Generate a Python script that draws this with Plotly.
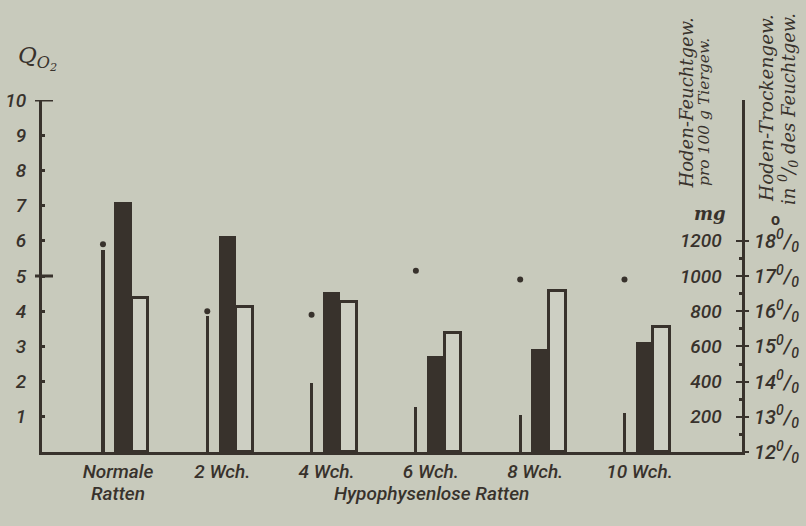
import plotly.graph_objects as go

# --- data -------------------------------------------------------------
groups = ["Normale", "2 Wch.", "4 Wch.", "6 Wch.", "8 Wch.", "10 Wch."]
# Hoden-Feuchtgewicht, mg pro 100 g Tiergewicht (thin bars)
feuchtgew_mg = [1150, 770, 390, 255, 210, 220]
# Q_O2, dark bars
qo2_dark = [7.1, 6.15, 4.55, 2.73, 2.93, 3.12]
# Q_O2, open bars
qo2_open = [4.37, 4.11, 4.25, 3.38, 4.57, 3.55]
# Hoden-Trockengewicht in % des Feuchtgewichts (dots)
trockengew_pct = [17.9, 16.0, 15.9, 17.15, 16.9, 16.9]

qo2_ticks = list(range(1, 11))
mg_ticks = [200, 400, 600, 800, 1000, 1200]
mg_minor = [100, 300, 500, 700, 900, 1100]
pct_ticks = [12, 13, 14, 15, 16, 17, 18]

# --- style ------------------------------------------------------------
INK = "#38322c"
PAPER = "#c8cabc"
OPEN_FILL = "#cdcfc3"
SANS = "Roboto"
SERIF = "DejaVu Serif"

W, H = 806, 526
L, R, T, B = 42, 64, 100, 74
PW, PH = W - L - R, H - T - B

# horizontal layout of one group (in group units)
OFF_THIN, OFF_DARK, OFF_OPEN = -0.144, 0.048, 0.211
W_THIN, W_DARK, W_OPEN = 0.03, 0.168, 0.16
x0_range = -0.7287
x1_range = x0_range + PW / 104.3

idx = list(range(len(groups)))

fig = go.Figure()
fig.add_trace(go.Bar(
    x=[i + OFF_THIN for i in idx], y=feuchtgew_mg, width=W_THIN,
    marker=dict(color=INK, line=dict(width=0)), yaxis="y2",
    name="Hoden-Feuchtgew.", showlegend=False))
fig.add_trace(go.Bar(
    x=[i + OFF_OPEN for i in idx], y=qo2_open, width=W_OPEN,
    marker=dict(color=OPEN_FILL, line=dict(color=INK, width=3)),
    name="Qo2", showlegend=False))
fig.add_trace(go.Bar(
    x=[i + OFF_DARK for i in idx], y=qo2_dark, width=W_DARK,
    marker=dict(color=INK, line=dict(width=0)),
    name="Qo2", showlegend=False))
fig.add_trace(go.Scatter(
    x=[i + OFF_THIN for i in idx], y=trockengew_pct, yaxis="y3",
    mode="markers", marker=dict(color=INK, size=6, symbol="circle"),
    name="Hoden-Trockengew.", showlegend=False, cliponaxis=False))


def sans(size, weight=500):
    return dict(family=SANS, size=size, color=INK, style="italic", weight=weight)


def serif(size):
    return dict(family=SERIF, size=size, color=INK, style="italic")


pct_text = [f"{v}<sup>0</sup>/<sub>0</sub>" for v in pct_ticks]

fig.update_layout(
    width=W, height=H, autosize=False,
    margin=dict(l=L, r=R, t=T, b=B, autoexpand=False),
    paper_bgcolor=PAPER, plot_bgcolor=PAPER,
    barmode="overlay", bargap=0,
    showlegend=False,
    xaxis=dict(
        range=[x0_range, x1_range], tickmode="array", tickvals=idx,
        ticktext=groups, ticks="", showgrid=False, zeroline=False,
        showline=True, linewidth=3, linecolor=INK, automargin=False,
        tickfont=sans(19), ticklabelstandoff=0),
    yaxis=dict(
        range=[0, 10], tickmode="array", tickvals=qo2_ticks,
        ticks="inside", ticklen=3, tickwidth=3, tickcolor=INK,
        showgrid=False, zeroline=False, automargin=False,
        showline=True, linewidth=3, linecolor=INK,
        tickfont=sans(19), ticklabelstandoff=9),
    yaxis2=dict(
        range=[0, 2000], overlaying="y", side="right", anchor="x",
        tickmode="array", tickvals=mg_ticks, automargin=False,
        ticks="inside", ticklen=6, tickwidth=2, tickcolor=INK,
        ticklabelposition="inside",
        minor=dict(tickmode="array", tickvals=mg_minor, ticks="inside",
                   ticklen=3, tickwidth=3, tickcolor=INK),
        showgrid=False, zeroline=False,
        showline=True, linewidth=3, linecolor=INK,
        tickfont=sans(19), ticklabelstandoff=15),
    yaxis3=dict(
        range=[12, 22], overlaying="y", side="right", anchor="x",
        tickmode="array", tickvals=pct_ticks, ticktext=pct_text,
        ticks="outside", ticklen=6, tickwidth=2, tickcolor=INK,
        showgrid=False, zeroline=False, showline=False, automargin=False,
        tickfont=sans(20), ticklabelstandoff=1),
)

# long cross ticks at 5 and 10 on the Q_O2 axis
for v in (5, 10):
    fig.add_shape(type="line", xref="paper", yref="y",
                  x0=-7 / PW, x1=11 / PW, y0=v, y1=v,
                  line=dict(color=INK, width=3))


def px_x(px):
    return (px - L) / PW


def px_y(py):
    return (T + PH - py) / PH


fig.add_annotation(text="Ratten", xref="x", yref="paper",
                   x=0, y=px_y(493), showarrow=False, font=sans(19),
                   xanchor="center", yanchor="middle")
fig.add_annotation(text="Hypophysenlose Ratten", xref="x", yref="paper",
                   x=3.01, y=px_y(493), showarrow=False, font=sans(19),
                   xanchor="center", yanchor="middle")
fig.add_annotation(text="Q<sub>O<sub>2</sub></sub>", xref="paper", yref="paper",
                   x=px_x(16), y=px_y(58), showarrow=False,
                   font=serif(23), xanchor="left", yanchor="middle")

# rotated axis titles: (text, font, x-centre px, bottom px)
side_titles = [
    ("Hoden-Feuchtgew.", serif(18), 686, 191),
    ("pro 100 g Tiergew.", serif(15.5), 704, 188),
    ("Hoden-Trockengew.", serif(18.5), 766, 204),
    ("in <sup>0</sup>/<sub>0</sub> des Feuchtgew.", serif(18), 788, 207),
]
for txt, fnt, px, py in side_titles:
    fig.add_annotation(text=txt, xref="paper", yref="paper",
                       x=px_x(px), y=px_y(py), textangle=-90,
                       showarrow=False, font=fnt,
                       xanchor="center", yanchor="bottom")

fig.add_annotation(text="<b>mg</b>", xref="paper", yref="paper",
                   x=px_x(710), y=px_y(213), showarrow=False,
                   font=serif(18), xanchor="center", yanchor="middle")
fig.add_annotation(text="o", xref="paper", yref="paper",
                   x=px_x(775), y=px_y(219), showarrow=False,
                   font=dict(family=SANS, size=16, color=INK, weight=700),
                   xanchor="center", yanchor="middle")

fig.write_html("out.html")
